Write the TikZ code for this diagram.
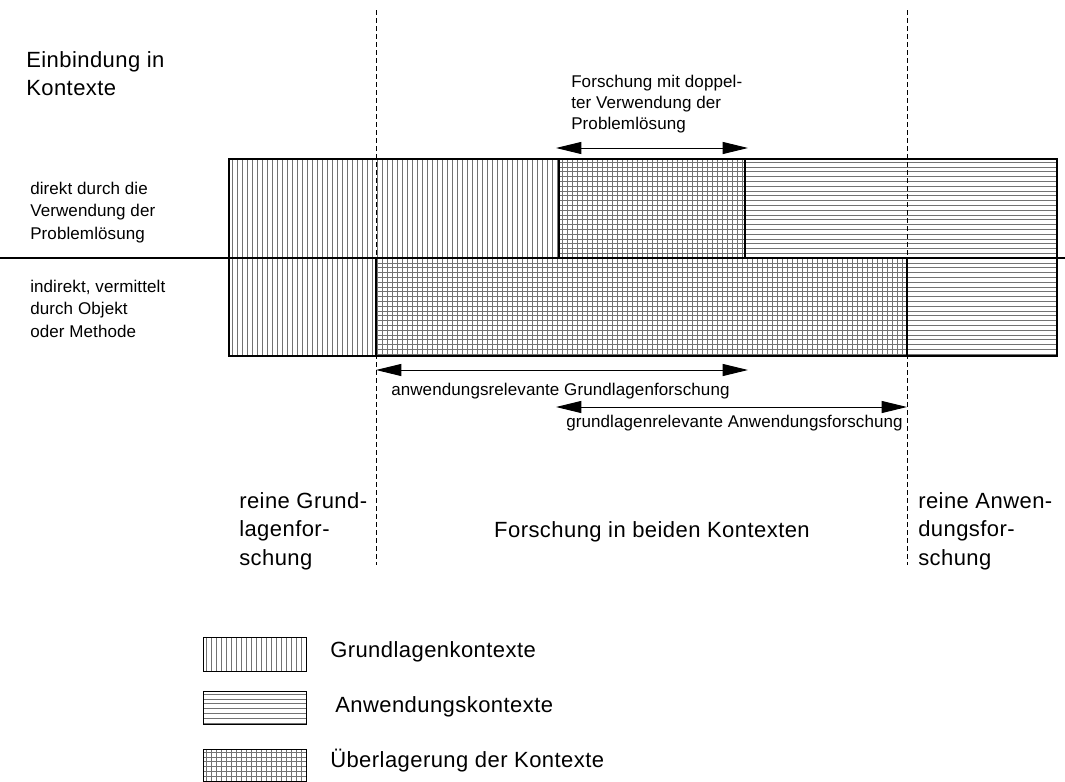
\documentclass[tikz,border=0pt]{standalone}
\usepackage{fontspec}
\setmainfont{Liberation Sans}
\usetikzlibrary{arrows.meta}
\newcommand{\bigsize}{\fontsize{16.5}{20.3}\selectfont\addfontfeatures{LetterSpace=2}}
\newcommand{\smallsize}{\fontsize{12.75}{16}\selectfont\addfontfeatures{LetterSpace=0.6}}
\tikzset{
  hatch/.style={black!55,line width=0.45pt},
  frame/.style={black,line width=0.9pt},
  divider/.style={black,line width=0.75pt,dash pattern=on 3.5pt off 2.5pt},
  span/.style={{Triangle[length=19pt,width=9pt]}-{Triangle[length=19pt,width=9pt]},line width=0.75pt},
  bigtext/.style={inner sep=0pt,align=left,font=\bigsize},
  smalltext/.style={inner sep=0pt,align=left,font=\smallsize}
}
\begin{document}
\begin{tikzpicture}[x=0.75pt,y=-0.75pt]
\useasboundingbox (0,0) rectangle (1065,782);

% Grundlagenkontexte (vertical lines)
\begin{scope}
  \clip (229,159) -- (745,159) -- (745,258) -- (907,258) -- (907,356) -- (229,356) -- cycle;
  \foreach \x in {232,237,...,907} \draw[hatch] (\x,159) -- (\x,356);
\end{scope}
% Anwendungskontexte (horizontal lines)
\begin{scope}
  \clip (559,159) -- (1057,159) -- (1057,356) -- (376,356) -- (376,258) -- (559,258) -- cycle;
  \foreach \y in {162,166.8,...,356} \draw[hatch] (376,\y) -- (1057,\y);
\end{scope}

% frames
\draw[frame] (229,159) rectangle (1057,356);
\draw[frame] (559,159) rectangle (745,258);
\draw[frame] (376,258) rectangle (907,356);
\draw[frame] (0,258) -- (1065,258);

% borders of the three zones
\draw[divider] (376,10) -- (376,565);
\draw[divider] (907,10) -- (907,565);

% row labels
\node[bigtext,anchor=north west] (head) at (26,51) {Einbindung in\\[1.2pt]Kontexte};
\node[smalltext,anchor=north west] (direct) at (30,181.5) {direkt durch die\\[1pt]Verwendung der\\[1pt]Problemlösung};
\node[smalltext,anchor=north west] (indirect) at (30,279.5) {indirekt, vermittelt\\[1pt]durch Objekt\\[1pt]oder Methode};

% spans
\node[smalltext,anchor=north west] (double) at (571,74.5) {Forschung mit doppel-\\ter Verwendung der\\Problemlösung};
\coordinate (dblL) at (556,148);
\coordinate (dblR) at (748,148);
\draw[span] (dblL) -- (dblR);

\coordinate (agL) at (376,370);
\coordinate (agR) at (748,370);
\draw[span] (agL) -- (agR);
\node[smalltext,anchor=base west] (agtext) at (391,395) {anwendungsrelevante Grundlagenforschung};

\coordinate (gaL) at (556,407);
\coordinate (gaR) at (907,407);
\draw[span] (gaL) -- (gaR);
\node[smalltext,anchor=base west] (gatext) at (566,427) {grundlagenrelevante Anwendungsforschung};

% zone labels
\node[bigtext,anchor=north west] (pureG) at (239,492) {reine Grund-\\[1.2pt]lagenfor-\\[1.2pt]schung};
\node[bigtext,anchor=base] (both) at (652,537) {Forschung in beiden Kontexten};
\node[bigtext,anchor=north west] (pureA) at (918,492) {reine Anwen-\\[1.2pt]dungsfor-\\[1.2pt]schung};

% legend
\begin{scope}
  \clip (203,637) rectangle (306,671);
  \foreach \x in {206,211,...,306} \draw[hatch] (\x,637) -- (\x,671);
\end{scope}
\draw[frame,line width=0.6pt] (203,637) rectangle (306,671);
\node[bigtext,anchor=base west] (legG) at (330,657) {Grundlagenkontexte};

\begin{scope}
  \clip (203,691) rectangle (306,724);
  \foreach \y in {694,698.8,...,724} \draw[hatch] (203,\y) -- (306,\y);
\end{scope}
\draw[frame,line width=0.6pt] (203,691) rectangle (306,724);
\node[bigtext,anchor=base west] (legA) at (335,712) {Anwendungskontexte};

\begin{scope}
  \clip (203,749) rectangle (306,781);
  \foreach \x in {206,211,...,306} \draw[hatch] (\x,749) -- (\x,781);
  \foreach \y in {752,756.8,...,781} \draw[hatch] (203,\y) -- (306,\y);
\end{scope}
\draw[frame,line width=0.6pt] (203,749) rectangle (306,781);
\node[bigtext,anchor=base west] (legU) at (330,767) {Überlagerung der Kontexte};
\end{tikzpicture}
\end{document}
